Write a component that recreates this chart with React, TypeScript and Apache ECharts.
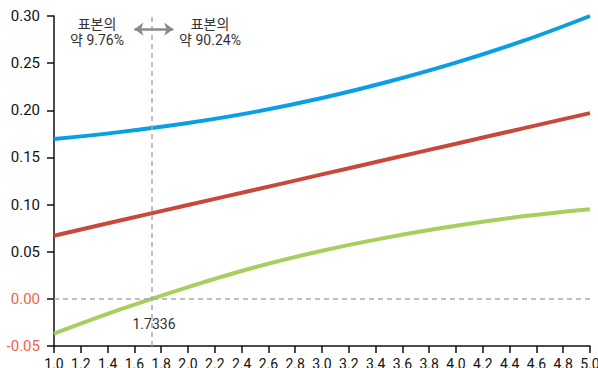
import React, { useEffect, useRef } from "react";
import * as echarts from "echarts";

// Moderator values along the horizontal axis
const xValues = [1.0, 1.5, 2.0, 2.5, 3.0, 3.5, 4.0, 4.5, 5.0];
// Upper 95% bound of the marginal effect
const upperBound = [0.1695, 0.1771, 0.1865, 0.1983, 0.213, 0.2305, 0.2505, 0.2735, 0.3];
// Point estimate of the marginal effect
const estimate = [0.067, 0.0833, 0.0995, 0.1157, 0.132, 0.1483, 0.1645, 0.1808, 0.197];
// Lower 95% bound of the marginal effect
const lowerBound = [-0.037, -0.011, 0.0125, 0.0335, 0.051, 0.0655, 0.0775, 0.0875, 0.095];

const crossing = 1.7336;
const leftShare = "표본의\n약 9.76%";
const rightShare = "표본의\n약 90.24%";

const pairs = (ys: number[]) => xValues.map((x, i) => [x, ys[i]]);

export default function App() {
  const ref = useRef<HTMLDivElement>(null);

  useEffect(() => {
    document.body.style.margin = "0";
    if (!ref.current) return;
    const chart = echarts.init(ref.current, null, { renderer: "svg" });
    const font = "Roboto, 'Noto Sans CJK KR', sans-serif";
    const lineSeries = (name: string, ys: number[], color: string) => ({
      name,
      type: "line",
      data: pairs(ys),
      smooth: 0.4,
      showSymbol: false,
      lineStyle: { color, width: 4 },
      z: 3,
    });

    chart.setOption({
      animation: false,
      grid: { left: 54, right: 8, top: 16, bottom: 22, outerBoundsMode: "none" },
      xAxis: {
        type: "value",
        min: 1,
        max: 5,
        interval: 0.2,
        axisLine: { show: true, onZero: false, lineStyle: { color: "#111", width: 1.5 } },
        axisTick: { show: true, length: 7, lineStyle: { color: "#111", width: 1.5 } },
        axisLabel: {
          margin: 11,
          fontSize: 14,
          fontFamily: font,
          color: "#111",
          formatter: (v: number) => v.toFixed(1),
        },
        splitLine: { show: false },
      },
      yAxis: {
        type: "value",
        min: -0.05,
        max: 0.3,
        interval: 0.05,
        axisLine: { show: true, onZero: false, lineStyle: { color: "#111", width: 1.5 } },
        axisTick: { show: true, length: 7, lineStyle: { color: "#111", width: 1.5 } },
        axisLabel: {
          margin: 14,
          fontSize: 15,
          fontFamily: font,
          color: (v: any) => (Number(v) <= 0.0001 ? "#f0624f" : "#111"),
          formatter: (v: number) => (Math.abs(v) < 1e-9 ? 0 : v).toFixed(2),
        },
        splitLine: { show: false },
      },
      series: [
        {
          ...lineSeries("upper", upperBound, "#0a9fe3"),
          markLine: {
            silent: true,
            symbol: "none",
            label: { show: false },
            lineStyle: { color: "#aaa", type: [5, 4], width: 1.5 },
            data: [[{ coord: [1, 0] }, { coord: [5, 0] }], { xAxis: crossing }],
          },
        },
        lineSeries("estimate", estimate, "#c8483c"),
        {
          ...lineSeries("lower", lowerBound, "#a6cf5e"),
          markLine: {
            silent: true,
            symbol: ["arrow", "arrow"],
            symbolSize: [10, 9],
            label: { show: false },
            lineStyle: { color: "#8a8a8a", type: "solid", width: 2.5 },
            data: [[{ coord: [1.6, 0.286] }, { coord: [1.89, 0.286] }]],
          },
        },
      ],
      graphic: [
        {
          type: "text",
          x: 97,
          y: 16,
          style: {
            text: leftShare,
            fontSize: 14,
            fontFamily: font,
            fill: "#333",
            align: "center",
            lineHeight: 16,
          },
        },
        {
          type: "text",
          x: 210,
          y: 16,
          style: {
            text: rightShare,
            fontSize: 14,
            fontFamily: font,
            fill: "#333",
            align: "center",
            lineHeight: 16,
          },
        },
        {
          type: "text",
          x: 154,
          y: 317,
          style: {
            text: String(crossing),
            fontSize: 14,
            fontFamily: font,
            fill: "#333",
            align: "center",
          },
        },
      ],
    });
    return () => chart.dispose();
  }, []);

  return <div ref={ref} style={{ width: 598, height: 368 }} />;
}
